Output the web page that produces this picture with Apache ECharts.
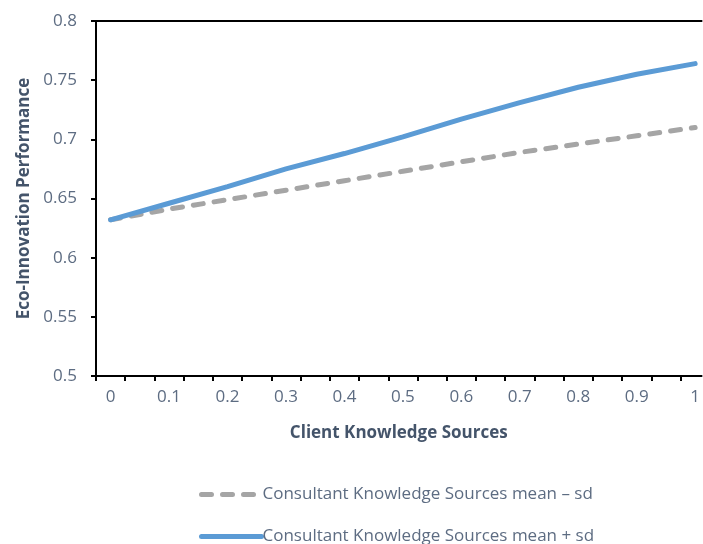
<!DOCTYPE html>
<html>
<head>
<meta charset="utf-8">
<script src="https://cdn.jsdelivr.net/npm/echarts@6/dist/echarts.min.js"></script>
<style>
  html, body { margin: 0; padding: 0; background: #fff; }
  #chart { width: 703px; height: 544px; }
</style>
</head>
<body>
<div id="chart"></div>
<script>
// x values (Client Knowledge Sources)
const xValues = [0, 0.1, 0.2, 0.3, 0.4, 0.5, 0.6, 0.7, 0.8, 0.9, 1];
// Consultant Knowledge Sources mean - sd
const lowSd = [0.632, 0.641, 0.649, 0.657, 0.665, 0.673, 0.681, 0.689, 0.696, 0.703, 0.710];
// Consultant Knowledge Sources mean + sd
const highSd = [0.632, 0.646, 0.660, 0.675, 0.688, 0.702, 0.717, 0.731, 0.744, 0.755, 0.764];
// axis labels / ticks
const xTickLabels = [0, 0.1, 0.2, 0.3, 0.4, 0.5, 0.6, 0.7, 0.8, 0.9, 1];
const xTickMarks = [-0.025, 0.025, 0.075, 0.125, 0.175, 0.225, 0.275, 0.325, 0.375, 0.425, 0.475,
  0.525, 0.575, 0.625, 0.675, 0.725, 0.775, 0.825, 0.875, 0.925, 0.975];
const seriesNames = ['Consultant Knowledge Sources mean \u2013 sd', 'Consultant Knowledge Sources mean + sd'];

const labelColor = '#5d6c82';
const titleColor = '#44546a';
const font = '"Open Sans", sans-serif';

let mychart = echarts.init(document.getElementById('chart'));

function pairs(ys) {
    return xValues.map((x, i) => [x, ys[i]]);
}

// one legend per row so they stack like the original
function legendRow(name, top) {
    return {
        left: 194,
        top: top,
        selectedMode: false,
        itemWidth: 60,
        itemHeight: 14,
        itemGap: 0,
        itemStyle: { opacity: 0 },
        lineStyle: { width: 5, cap: 'round' },
        textStyle: { color: labelColor, fontSize: 17, fontFamily: font, padding: [0, 0, 0, -4] },
        data: [name]
    };
}

let option = {
    animation: false,
    grid: { left: 96, right: -2, top: 21, bottom: 168 },
    legend: [
        legendRow(seriesNames[0], 481),
        legendRow(seriesNames[1], 523)
    ],
    xAxis: [
        {
            type: 'value',
            min: -0.025,
            max: 1.011,
            name: 'Client Knowledge Sources',
            nameLocation: 'middle',
            nameGap: 49,
            nameTextStyle: { color: titleColor, fontSize: 17, fontWeight: 'bold', fontFamily: font },
            splitLine: { show: false },
            axisLine: { lineStyle: { color: '#000', width: 2 } },
            axisTick: { show: true, length: 5, customValues: xTickMarks, lineStyle: { color: '#000', width: 2 } },
            axisLabel: {
                customValues: xTickLabels,
                color: labelColor,
                fontSize: 17,
                fontFamily: font,
                margin: 13
            }
        },
        {
            // top border of the plot area
            type: 'value',
            position: 'top',
            min: -0.025,
            max: 1.011,
            splitLine: { show: false },
            axisLine: { show: true, lineStyle: { color: '#000', width: 2 } },
            axisTick: { show: false },
            axisLabel: { show: false }
        }
    ],
    yAxis: {
        type: 'value',
        min: 0.5,
        max: 0.8,
        interval: 0.05,
        name: 'Eco-Innovation Performance',
        nameLocation: 'middle',
        nameGap: 59,
        nameTextStyle: { color: titleColor, fontSize: 17, fontWeight: 'bold', fontFamily: font },
        splitLine: { show: false },
        axisLine: { show: true, onZero: false, lineStyle: { color: '#000', width: 2 } },
        axisTick: { show: true, length: 5, lineStyle: { color: '#000', width: 2 } },
        axisLabel: { color: labelColor, fontSize: 17, fontFamily: font, margin: 19 }
    },
    series: [
        {
            name: seriesNames[0],
            type: 'line',
            data: pairs(lowSd),
            symbol: 'none',
            lineStyle: { color: '#a5a5a5', width: 5, type: [10, 11], cap: 'round' },
            itemStyle: { color: '#a5a5a5' },
            z: 2
        },
        {
            name: seriesNames[1],
            type: 'line',
            data: pairs(highSd),
            symbol: 'none',
            lineStyle: { color: '#5b9bd5', width: 5, cap: 'round' },
            itemStyle: { color: '#5b9bd5' },
            z: 3
        }
    ]
};
mychart.setOption(option);
</script>
</body>
</html>
